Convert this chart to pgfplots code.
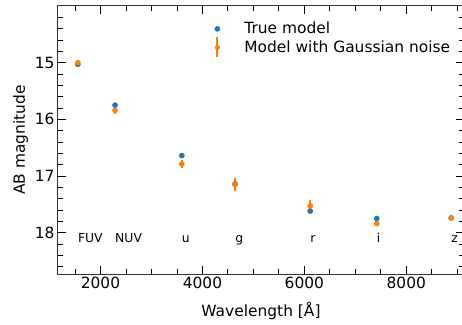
\documentclass[border=0pt]{standalone}
\usepackage{pgfplots}
\pgfplotsset{compat=1.18}
\usepackage{fontspec}
\setmainfont{DejaVu Sans}
\definecolor{tabblue}{HTML}{1F77B4}
\definecolor{taborange}{HTML}{FF7F0E}
\begin{document}
\begin{tikzpicture}
\begin{axis}[
  scale only axis,
  width=406bp, height=268bp,
  xmin=1166, xmax=9132,
  ymin=-18.73, ymax=-14.0,
  xtick={2000,4000,6000,8000},
  minor xtick={1500,2500,3000,3500,4500,5000,5500,6500,7000,7500,8500,9000},
  ytick={-18,-17,-16,-15},
  yticklabels={18,17,16,15},
  minor ytick={-14.2,-14.4,-14.6,-14.8,-15.2,-15.4,-15.6,-15.8,-16.2,-16.4,-16.6,-16.8,-17.2,-17.4,-17.6,-17.8,-18.2,-18.4,-18.6},
  tick align=inside,
  major tick length=8bp,
  minor tick length=5bp,
  every tick/.style={black, line width=0.9bp},
  axis line style={line width=1bp, black!80},
  /pgf/number format/assume math mode=true,
  /pgf/number format/1000 sep={},
  tick label style={font=\fontsize{15.5}{18}\selectfont},
  label style={font=\fontsize{15.5}{18}\selectfont},
  xlabel={Wavelength [Å]},
  xlabel style={yshift=-6bp},
  ylabel={AB magnitude},
  legend style={draw=none, fill=none, at={(axis description cs:0.36,0.955)}, anchor=north west,
    font=\fontsize{15.5}{18}\selectfont},
  legend cell align=left,
]
\addplot[only marks, mark=*, mark size=2.6bp, color=tabblue,
  legend image code/.code={\path[draw=none, fill=none] (0bp,-3bp) rectangle (35bp,3bp);\fill[tabblue] (10bp,0bp) circle (2.6bp);}]
  table {
x y
1555 -15.03
2285 -15.75
3595 -16.64
4640 -17.14
6115 -17.62
7420 -17.75
8880 -17.74
};
\addlegendentry{True model}
\addplot[only marks, mark=*, mark size=2.6bp, color=taborange,
  legend image code/.code={\path[draw=none, fill=none] (0bp,-3bp) rectangle (35bp,3bp);\fill[taborange, draw=none] (9bp,-10bp) rectangle (11bp,10bp);\fill[taborange, draw=none] (10bp,0bp) circle (2.6bp);},
  error bars/.cd, y dir=both, y explicit, error mark=none,
  error bar style={line width=1.6bp, taborange}]
  table[x=x, y=y, y error=e] {
x y e
1555 -15.00 0.03
2285 -15.84 0.065
3595 -16.79 0.067
4640 -17.15 0.11
6115 -17.53 0.10
7420 -17.84 0.05
8880 -17.74 0.04
};
\addlegendentry{Model with Gaussian noise}
\node[anchor=base west, font=\fontsize{12.4}{14}\selectfont, inner sep=0pt] at (axis cs:1555,-18.17) {FUV};
\node[anchor=base west, font=\fontsize{12.4}{14}\selectfont, inner sep=0pt] at (axis cs:2285,-18.17) {NUV};
\node[anchor=base west, font=\fontsize{12.4}{14}\selectfont, inner sep=0pt] at (axis cs:3595,-18.17) {u};
\node[anchor=base west, font=\fontsize{12.4}{14}\selectfont, inner sep=0pt] at (axis cs:4640,-18.17) {g};
\node[anchor=base west, font=\fontsize{12.4}{14}\selectfont, inner sep=0pt] at (axis cs:6115,-18.17) {r};
\node[anchor=base west, font=\fontsize{12.4}{14}\selectfont, inner sep=0pt] at (axis cs:7420,-18.17) {i};
\node[anchor=base west, font=\fontsize{12.4}{14}\selectfont, inner sep=0pt] at (axis cs:8880,-18.17) {z};
\end{axis}
\pgfresetboundingbox
\path[use as bounding box] ([shift={(-58bp,-51bp)}]current axis.south west) rectangle ([shift={(404bp,274bp)}]current axis.south west);
\end{tikzpicture}
\end{document}
